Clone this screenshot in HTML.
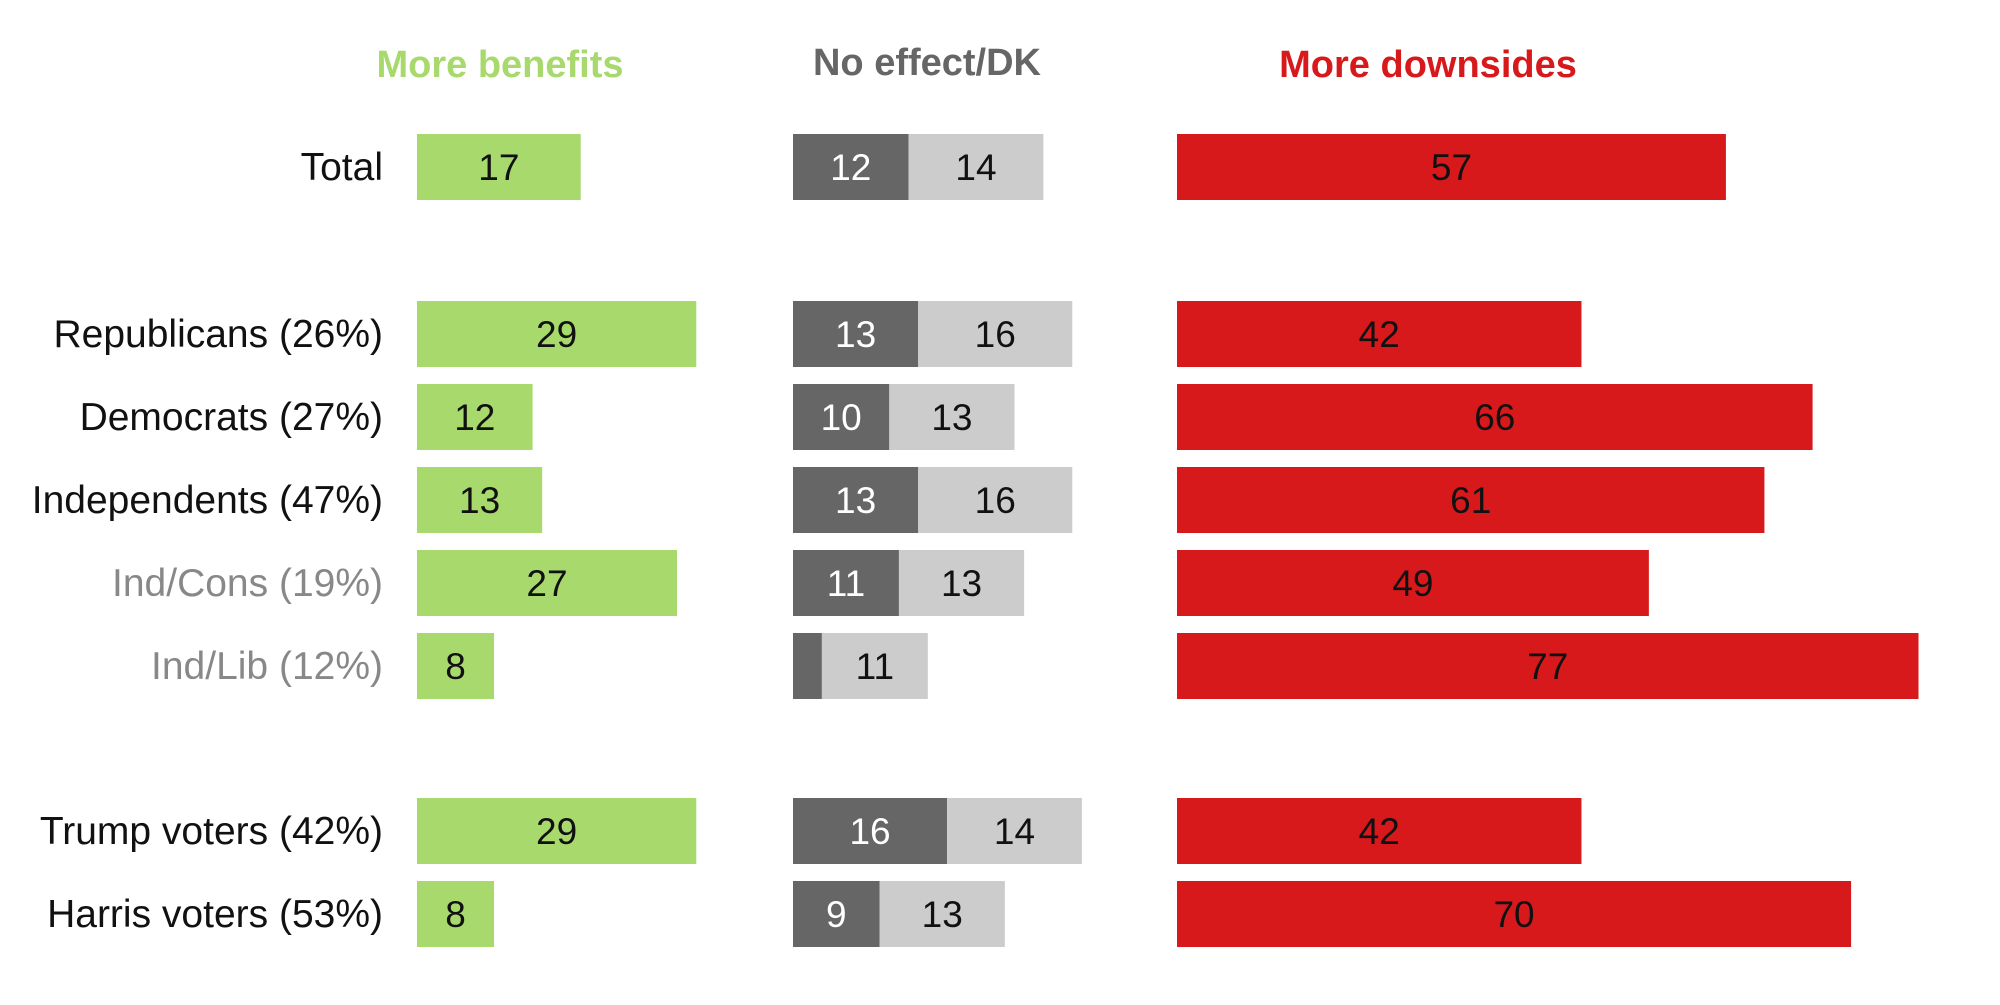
<!DOCTYPE html>
<html><head><meta charset="utf-8"><style>
html,body{margin:0;padding:0;background:#fff;}
svg text{font-family:"Liberation Sans",sans-serif;}
</style></head><body>
<svg id="chart" width="2000" height="1000" xmlns="http://www.w3.org/2000/svg">
<text x="500" y="77" text-anchor="middle" font-size="38" font-weight="bold" fill="#a8d96c">More benefits</text>
<text x="927" y="75" text-anchor="middle" font-size="38" font-weight="bold" fill="#666">No effect/DK</text>
<text x="1428" y="77" text-anchor="middle" font-size="38" font-weight="bold" fill="#d7191c">More downsides</text>
<g id="bars"></g>
</svg>
<script>
const categories=["Total","Republicans (26%)","Democrats (27%)","Independents (47%)","Ind/Cons (19%)","Ind/Lib (12%)","Trump voters (42%)","Harris voters (53%)"];
const benefits=[17,29,12,13,27,8,29,8];
const noEffect=[12,13,10,13,11,3,16,9];
const dk=[14,16,13,16,13,11,14,13];
const downsides=[57,42,66,61,49,77,42,70];
const muted=[false,false,false,false,true,true,false,false];
const rowTop=[134,301,384,467,550,633,798,881];
const unit=9.63, barH=66;
const xBen=417,xNo=793,xDown=1177;
const g=document.getElementById('bars');
const NS="http://www.w3.org/2000/svg";
function rect(x,y,w,fill,name){const r=document.createElementNS(NS,'rect');r.setAttribute('x',x);r.setAttribute('y',y);r.setAttribute('width',w);r.setAttribute('height',barH);r.setAttribute('fill',fill);


g.appendChild(r);}
function txt(x,y,s,fill,anchor,name,fs){const t=document.createElementNS(NS,'text');t.setAttribute('x',x);t.setAttribute('y',y);t.setAttribute('font-size',fs);t.setAttribute('fill',fill);t.setAttribute('text-anchor',anchor);t.textContent=s;


g.appendChild(t);}
categories.forEach((c,i)=>{
 const y=rowTop[i], ty=y+barH/2+13;
 txt(383,ty,c,muted[i]?'#888':'#111','end','row-label',39);
 let w=benefits[i]*unit; rect(xBen,y,w,'#a8d96c','bar-benefits'); txt(xBen+w/2,ty,benefits[i],'#111','middle','value-benefits',37);
 let w1=noEffect[i]*unit; rect(xNo,y,w1,'#666','bar-no-effect'); if(noEffect[i]>=5) txt(xNo+w1/2,ty,noEffect[i],'#fff','middle','value-no-effect',37);
 let w2=dk[i]*unit; rect(xNo+w1,y,w2,'#cccccc','bar-dk'); txt(xNo+w1+w2/2,ty,dk[i],'#111','middle','value-dk',37);
 let w3=downsides[i]*unit; rect(xDown,y,w3,'#d7191c','bar-downsides'); txt(xDown+w3/2,ty,downsides[i],'#111','middle','value-downsides',37);
});
</script>
</body></html>
